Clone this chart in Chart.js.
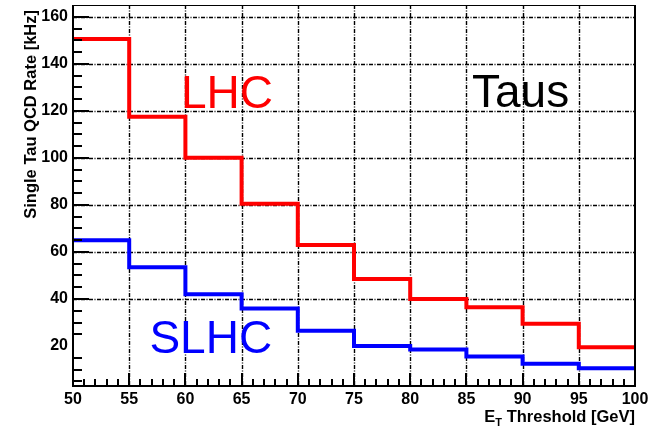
<!DOCTYPE html>
<html>
<head>
    <title>Single Tau QCD Rate</title>
    <script src="https://cdn.jsdelivr.net/npm/chart.js"></script>
    <meta charset="UTF-8" />
    <style>
  html, body {
    margin: 0;
    padding: 0;
    background: #fff;
    overflow: hidden;
  }
  canvas { display: block; }
</style>
</head>
<body>
    <canvas id="rateChart" width="652" height="430"></canvas>
    <script>
        // Histogram bins (ET threshold, GeV) and rates in kHz
        const binEdges = [50, 55, 60, 65, 70, 75, 80, 85, 90, 95, 100];
        const lhcRate = [150.5, 117.5, 100, 80.5, 63, 48.5, 40, 36.5, 29.5, 19.5];
        const slhcRate = [65, 53.5, 42, 36, 26.5, 20, 18.5, 15.5, 12.5, 10.5];
        const xTickLabels = ['50', '55', '60', '65', '70', '75', '80', '85', '90', '95', '100'];
        const yTickLabels = ['20', '40', '60', '80', '100', '120', '140', '160'];

        const FONT = '"Liberation Sans", Arial, Helvetica, sans-serif';

        // one point per bin edge; the last edge repeats the last bin so the step closes at 100
        function histPoints(values) {
            return binEdges.map((x, i) => ({ x: x, y: values[Math.min(i, values.length - 1)] }));
        }

        // dotted grid behind the histograms
        const gridPlugin = {
            id: 'rootGrid',
            beforeDatasetsDraw(chart) {
                const { ctx, chartArea: a, scales: { x, y } } = chart;
                ctx.save();
                ctx.strokeStyle = '#000';
                ctx.lineWidth = 1.4;
                ctx.setLineDash([4, 1.5, 1, 1.5]);
                xTickLabels.forEach(t => {
                    const v = Number(t);
                    if (v <= x.min || v >= x.max) return;
                    const px = Math.round(x.getPixelForValue(v)) + 0.5;
                    ctx.beginPath();
                    ctx.moveTo(px, a.top);
                    ctx.lineTo(px, a.bottom);
                    ctx.stroke();
                });
                yTickLabels.forEach(t => {
                    const v = Number(t);
                    if (v < 40) return;
                    const py = Math.round(y.getPixelForValue(v)) + 0.5;
                    ctx.beginPath();
                    ctx.moveTo(a.left, py);
                    ctx.lineTo(a.right, py);
                    ctx.stroke();
                });
                ctx.restore();
            }
        };

        // frame, inward ticks, labels, titles and the text keys
        const framePlugin = {
            id: 'rootFrame',
            afterDatasetsDraw(chart) {
                const { ctx, chartArea: a, scales: { x, y } } = chart;
                ctx.save();
                ctx.setLineDash([]);
                ctx.strokeStyle = '#000';

                // frame
                ctx.lineWidth = 1;
                ctx.strokeRect(a.left + 0.5, a.top + 0.5, a.right - a.left, a.bottom - a.top);
                ctx.lineWidth = 2;
                ctx.beginPath();
                ctx.moveTo(a.left, a.top);
                ctx.lineTo(a.left, a.bottom);
                ctx.lineTo(a.right, a.bottom);
                ctx.moveTo(a.right, a.top);
                ctx.lineTo(a.right, a.bottom);
                ctx.stroke();

                // x ticks: major every 5, minor every 1
                ctx.lineWidth = 2;
                ctx.beginPath();
                for (let v = x.min + 1; v < x.max; v++) {
                    const px = Math.round(x.getPixelForValue(v));
                    const len = v % 5 === 0 ? 13 : 7;
                    ctx.moveTo(px, a.bottom);
                    ctx.lineTo(px, a.bottom - len);
                }
                // y ticks: major every 20, minor every 5 (none drawn at 20)
                for (let v = 5; v < y.max; v += 5) {
                    if (v === 20) continue;
                    const py = Math.round(y.getPixelForValue(v));
                    const len = v % 20 === 0 ? 16 : 9;
                    ctx.moveTo(a.left, py);
                    ctx.lineTo(a.left + len, py);
                }
                ctx.stroke();

                // tick labels
                ctx.fillStyle = '#000';
                ctx.font = 'bold 16px ' + FONT;
                ctx.textAlign = 'center';
                ctx.textBaseline = 'middle';
                xTickLabels.forEach(t => {
                    ctx.fillText(t, x.getPixelForValue(Number(t)), a.bottom + 14);
                });
                ctx.textAlign = 'right';
                yTickLabels.forEach(t => {
                    ctx.fillText(t, a.left - 5, y.getPixelForValue(Number(t)));
                });

                // x title with subscript T, right aligned to the axis end
                ctx.font = 'bold 16.5px ' + FONT;
                ctx.textBaseline = 'alphabetic';
                ctx.textAlign = 'left';
                const rest = ' Threshold [GeV]';
                const wE = ctx.measureText('E').width;
                const wRest = ctx.measureText(rest).width;
                ctx.font = 'bold 11px ' + FONT;
                const wT = ctx.measureText('T').width;
                const xs = a.right - (wE + wT + wRest);
                const base = a.bottom + 36;
                ctx.font = 'bold 16.5px ' + FONT;
                ctx.fillText('E', xs, base);
                ctx.font = 'bold 11px ' + FONT;
                ctx.fillText('T', xs + wE, base + 4);
                ctx.font = 'bold 16.5px ' + FONT;
                ctx.fillText(rest, xs + wE + wT, base);

                // y title, rotated, ending at the top of the axis
                ctx.save();
                ctx.translate(31, a.top + 5);
                ctx.rotate(-Math.PI / 2);
                ctx.textAlign = 'right';
                ctx.textBaseline = 'middle';
                ctx.fillText('Single Tau QCD Rate [kHz]', 0, 0);
                ctx.restore();

                // text keys placed in data coordinates
                ctx.font = '46px ' + FONT;
                ctx.textAlign = 'left';
                ctx.textBaseline = 'alphabetic';
                ctx.fillStyle = '#ff0000';
                ctx.fillText('LHC', x.getPixelForValue(59.6), y.getPixelForValue(121));
                ctx.fillStyle = '#000';
                ctx.fillText('Taus', x.getPixelForValue(85.5), y.getPixelForValue(121.7));
                ctx.fillStyle = '#0000ff';
                ctx.fillText('SLHC', x.getPixelForValue(56.8), y.getPixelForValue(17.2));

                ctx.restore();
            }
        };

        const ctx = document.getElementById('rateChart').getContext('2d');
        const rateChart = new Chart(ctx, {
            type: 'line',
            data: {
                datasets: [{
                    label: 'LHC',
                    data: histPoints(lhcRate),
                    stepped: 'before',   // horizontal across the bin, then drop at the edge
                    borderColor: '#ff0000',
                    borderWidth: 4,
                    pointRadius: 0,
                    fill: false
                },
                {
                    label: 'SLHC',
                    data: histPoints(slhcRate),
                    stepped: 'before',
                    borderColor: '#0000ff',
                    borderWidth: 4,
                    pointRadius: 0,
                    fill: false
                }]
            },
            options: {
                responsive: false,
                animation: false,
                layout: {
                    padding: { left: 73, right: 17, top: 5, bottom: 44 }
                },
                plugins: {
                    legend: { display: false },
                    tooltip: { enabled: false }
                },
                scales: {
                    x: { type: 'linear', min: 50, max: 100, display: false },
                    y: { type: 'linear', min: 3, max: 165, display: false }
                }
            },
            plugins: [gridPlugin, framePlugin]
        });
    </script>
</body>
</html>
